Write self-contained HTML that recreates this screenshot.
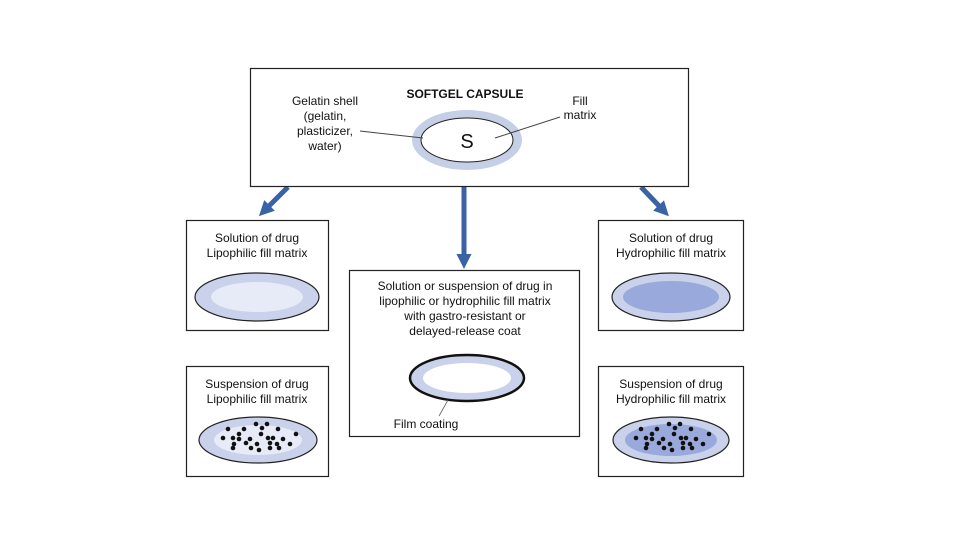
<!DOCTYPE html>
<html><head><meta charset="utf-8"><style>
html,body{margin:0;padding:0;background:#fff;}
svg{display:block;font-family:"Liberation Sans",sans-serif;}
</style></head><body>
<svg width="960" height="540" viewBox="0 0 960 540" xmlns="http://www.w3.org/2000/svg">
<defs>
<g id="dots" fill="#111">
<circle cx="-30" cy="-11" r="2.3"/><circle cx="-14" cy="-11" r="2.3"/><circle cx="-2" cy="-16" r="2.3"/><circle cx="9" cy="-16" r="2.3"/><circle cx="4" cy="-12" r="2.3"/><circle cx="20" cy="-11" r="2.3"/>
<circle cx="-35" cy="-2" r="2.3"/><circle cx="-25" cy="-2" r="2.3"/><circle cx="-19" cy="-6" r="2.3"/><circle cx="-8" cy="-1" r="2.3"/><circle cx="3" cy="-6" r="2.3"/><circle cx="10" cy="-2" r="2.3"/><circle cx="15" cy="-2" r="2.3"/><circle cx="25" cy="-1" r="2.3"/><circle cx="38" cy="-6" r="2.3"/><circle cx="-19" cy="-1" r="2.3"/>
<circle cx="-24" cy="4" r="2.3"/><circle cx="-12" cy="3" r="2.3"/><circle cx="-1" cy="4" r="2.3"/><circle cx="12" cy="3" r="2.3"/><circle cx="19" cy="4" r="2.3"/><circle cx="32" cy="4" r="2.3"/>
<circle cx="-25" cy="8" r="2.3"/><circle cx="-7" cy="8" r="2.3"/><circle cx="1" cy="10" r="2.3"/><circle cx="12" cy="8" r="2.3"/><circle cx="21" cy="8" r="2.3"/>
</g>
<marker id="ah" markerWidth="3" markerHeight="3" refX="1" refY="1.5" orient="auto" markerUnits="strokeWidth"><path d="M0,0 L3,1.5 L0,3 Z" fill="#3a63a6"/></marker>
</defs>
<g stroke="#3a63a6" stroke-width="5" fill="none">
<line x1="288" y1="187" x2="266" y2="209" marker-end="url(#ah)"/>
<line x1="464" y1="187" x2="464" y2="259" marker-end="url(#ah)"/>
<line x1="641" y1="187" x2="662" y2="209" marker-end="url(#ah)"/>
</g>
<g fill="#fff" stroke="#222" stroke-width="1.2">
<rect x="250.5" y="68.5" width="438" height="118"/>
<rect x="186.5" y="220.5" width="142" height="110"/>
<rect x="186.5" y="366.5" width="142" height="110"/>
<rect x="349.5" y="270.5" width="230" height="166"/>
<rect x="598.5" y="220.5" width="145" height="110"/>
<rect x="598.5" y="366.5" width="145" height="110"/>
</g>
<ellipse cx="467" cy="140" rx="55" ry="30" fill="#c5cfe6"/>
<ellipse cx="467" cy="140" rx="46" ry="22" fill="#fff" stroke="#222" stroke-width="1"/>
<text x="467" y="148" font-size="20" text-anchor="middle" fill="#111">S</text>
<line x1="360" y1="131" x2="423" y2="138" stroke="#444" stroke-width="1"/>
<line x1="495" y1="138" x2="560" y2="117" stroke="#444" stroke-width="1"/>
<text x="465" y="98" font-size="12" font-weight="bold" text-anchor="middle" fill="#111">SOFTGEL CAPSULE</text>
<g font-size="12" fill="#111" text-anchor="middle">
<text x="325" y="105">Gelatin shell</text><text x="325" y="120">(gelatin,</text><text x="325" y="135">plasticizer,</text><text x="325" y="150">water)</text>
<text x="580" y="105">Fill</text><text x="580" y="119">matrix</text>
<text x="257" y="242">Solution of drug</text><text x="257" y="257">Lipophilic fill matrix</text>
<text x="257" y="388">Suspension of drug</text><text x="257" y="403">Lipophilic fill matrix</text>
<text x="671" y="242">Solution of drug</text><text x="671" y="257">Hydrophilic fill matrix</text>
<text x="671" y="388">Suspension of drug</text><text x="671" y="403">Hydrophilic fill matrix</text>
<text x="465" y="290">Solution or suspension of drug in</text>
<text x="465" y="305">lipophilic or hydrophilic fill matrix</text>
<text x="465" y="320">with gastro-resistant or</text>
<text x="465" y="335">delayed-release coat</text>
<text x="426" y="428">Film coating</text>
</g>
<ellipse cx="257" cy="297" rx="62" ry="24" fill="#c9d2ea" stroke="#222" stroke-width="1.2"/>
<ellipse cx="257" cy="297" rx="46" ry="15" fill="#e6ebf7"/>
<ellipse cx="671" cy="297" rx="59" ry="24" fill="#c9d2ea" stroke="#222" stroke-width="1.2"/>
<ellipse cx="671" cy="297" rx="48" ry="16" fill="#9aa9dc"/>
<ellipse cx="258" cy="440" rx="59" ry="23" fill="#c9d2ea" stroke="#222" stroke-width="1.2"/>
<ellipse cx="258" cy="440" rx="44" ry="15" fill="#e6ebf7"/>
<use href="#dots" x="258" y="440"/>
<ellipse cx="671" cy="440" rx="58" ry="23" fill="#c9d2ea" stroke="#222" stroke-width="1.2"/>
<ellipse cx="671" cy="440" rx="46" ry="16" fill="#9aa9dc"/>
<use href="#dots" x="671" y="440"/>
<ellipse cx="467" cy="378" rx="57" ry="23" fill="#c9d2ea" stroke="#111" stroke-width="2.5"/>
<ellipse cx="467" cy="378" rx="44" ry="15" fill="#fff"/>
<line x1="448" y1="400" x2="439" y2="416" stroke="#666" stroke-width="0.8"/>
</svg>
</body></html>
